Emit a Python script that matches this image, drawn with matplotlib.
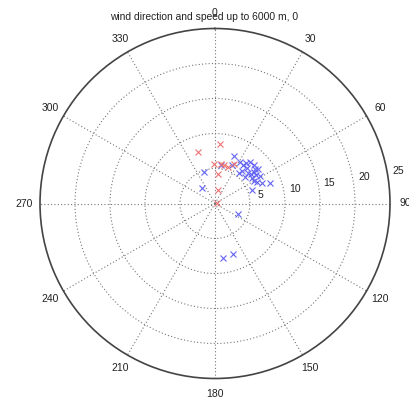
import numpy as np
import matplotlib
matplotlib.use('Agg')
import matplotlib.pyplot as plt

plt.rcParams['font.family'] = ['Liberation Sans', 'DejaVu Sans']

# wind direction (deg, clockwise from north) and speed
red_dir = [342, 5, 359, 9, 19.5, 13, 6.4, 13.7, 62, 25.4]
red_spd = [7.8, 8.6, 5.7, 5.7, 5.6, 5.6, 4.2, 2.0, 0.25, 6.2]

blue_dir = [21.5, 23.8, 31.2, 35.7, 42.3, 45.2, 48.9, 47, 50.3, 50.6,
            54.7, 48, 55.7, 59.5, 62.6, 66.1, 69.9, 69.7, 39.5, 38.1,
            8.4, 340.6, 320, 114.7, 172, 160.7, 51.7, 40.1, 37.4, 58.6]
blue_spd = [7.3, 6.0, 7.0, 6.8, 6.8, 7.8, 7.6, 6.4, 6.7, 7.2,
            7.1, 5.7, 6.4, 6.4, 6.8, 7.3, 8.4, 5.6, 6.1, 5.5,
            5.6, 4.7, 2.8, 3.6, 7.9, 7.6, 7.9, 7.8, 7.3, 7.5]

ring_vals = [5, 10, 15, 20, 25]
angle_vals = list(range(0, 360, 30))
title = 'wind direction and speed up to 6000 m, 0'

fig = plt.figure(figsize=(4.09, 3.97), dpi=100)
ax = fig.add_axes([40/409, 18.5/397, 350/409, 350/397], projection='polar')
ax.set_theta_zero_location('N')
ax.set_theta_direction(-1)
ax.set_ylim(0, 25)

ax.set_thetagrids(angle_vals, labels=[''] * len(angle_vals))
ax.set_rgrids(ring_vals[:-1], labels=[''] * 4)
ax.grid(True, color='#777777', linestyle=(0, (1, 2)), linewidth=0.8)
ax.spines['polar'].set_color('#444444')
ax.spines['polar'].set_linewidth(1.2)

ax.plot(np.radians(blue_dir), blue_spd, 'x', color='#6464f4', ms=4.5, mew=0.8)
ax.plot(np.radians(red_dir), red_spd, 'x', color='#ee7474', ms=4.5, mew=0.8)

for a in angle_vals:
    ax.text(np.radians(a), 27.2, str(a), ha='center', va='center',
            fontsize=7.5, color='#222222', clip_on=False)
for r in ring_vals:
    ax.text(np.radians(80), r + 1.6, str(r), ha='center', va='center',
            fontsize=7.5, color='#222222', clip_on=False)

fig.text(0.5, 1 - 17/397, title, ha='center', va='center', fontsize=7.4,
         color='#222222')

fig.savefig('out.png', dpi=100)
